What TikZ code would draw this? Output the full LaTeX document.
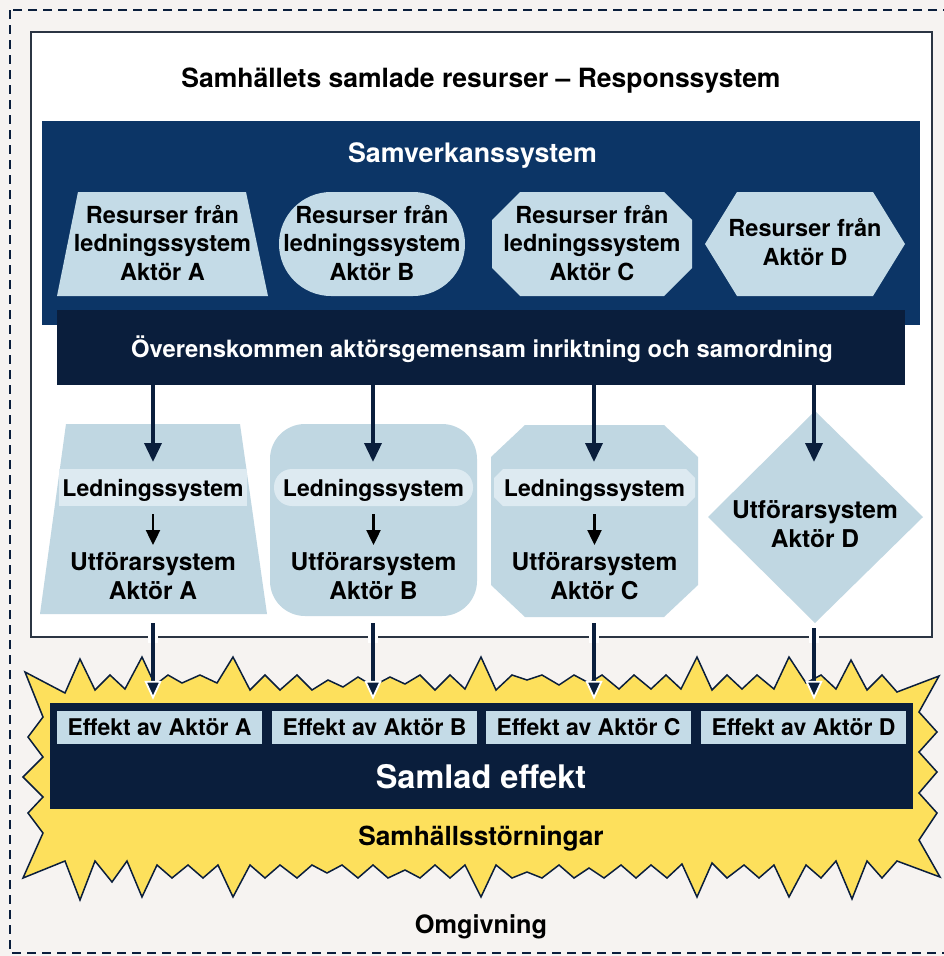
\documentclass[tikz,border=0pt]{standalone}
\usepackage{fontspec}
\setmainfont{TeX Gyre Heros}
\usetikzlibrary{arrows.meta}
\definecolor{bg}{HTML}{F6F3F1}
\definecolor{navy}{HTML}{0C3566}
\definecolor{ink}{HTML}{0A1E3C}
\definecolor{lb}{HTML}{C4DBE7}
\definecolor{lbtwo}{HTML}{C0D7E2}
\definecolor{band}{HTML}{DDEAF1}
\definecolor{yel}{HTML}{FDE05C}
\definecolor{frame}{HTML}{2B3543}
\begin{document}
\begin{tikzpicture}[x=1pt,y=-1pt,
  uptxt/.style={font=\bfseries\fontsize{23.5}{28.5}\selectfont, align=center, inner sep=0pt},
  lowtxt/.style={font=\bfseries\fontsize{24.5}{29}\selectfont, align=center, inner sep=0pt},
  ledtxt/.style={font=\bfseries\fontsize{23}{28}\selectfont, inner sep=0pt, anchor=base},
  efftxt/.style={font=\bfseries\fontsize{23}{28}\selectfont, fill=lb, inner sep=0pt, minimum width=205pt, minimum height=33pt},
  bigarrow/.style={ink, line width=3.6pt, -{Triangle[width=17pt,length=19pt]}},
  outarrow/.style={ink, line width=3.6pt, -{Triangle[width=17pt,length=19pt,color=white,fill=ink,line width=1.8pt]}},
  smallarrow/.style={black, line width=2.4pt, -{Triangle[width=14pt,length=15pt]}},
  gap/.style={white, line width=10pt}]
\fill[bg] (0,0) rectangle (944,956);
\useasboundingbox (0,0) rectangle (944,956);
\draw[ink, line width=2pt, dash pattern=on 9pt off 6pt] (10,10) rectangle (948,953);

% starburst
\draw[fill=yel, draw=ink, line width=1.5pt, line join=miter]
 (25,672) -- (65,693) -- (80,659) -- (95,690) -- (110,675) -- (125,689) -- (142,657) -- (155,685) -- (168,675) -- (182,683) -- (200,675) -- (217,683) -- (233,657) -- (250,690) -- (265,675) -- (280,690) -- (297,675) -- (312,690) -- (328,680) -- (343,687) -- (358,677) -- (373,686) -- (390,677) -- (405,684) -- (420,675) -- (435,690) -- (450,675) -- (465,689) -- (481,657) -- (496,690) -- (512,675) -- (527,680) -- (542,675) -- (559,685) -- (574,675) -- (589,683) -- (602,675) -- (619,689) -- (634,675) -- (651,689) -- (666,675) -- (681,689) -- (697,657) -- (712,690) -- (727,675) -- (742,689) -- (757,675) -- (774,689) -- (789,657) -- (806,683) -- (821,675) -- (836,689) -- (851,660) -- (867,690) -- (882,675) -- (897,692) -- (939,676)
 -- (919,712) -- (937,732) -- (919,752) -- (937,772) -- (919,793) -- (937,813) -- (919,840) -- (940,877)
 -- (897,861) -- (882,878) -- (867,861) -- (852,899) -- (836,861) -- (821,878) -- (806,865) -- (789,897) -- (774,865) -- (759,878) -- (744,865) -- (727,878) -- (712,863) -- (697,897) -- (682,864) -- (667,878) -- (651,865) -- (636,878) -- (621,865) -- (604,878) -- (589,868) -- (574,878) -- (559,865) -- (542,878) -- (527,872) -- (512,878) -- (496,865) -- (481,897) -- (465,865) -- (450,878) -- (435,865) -- (420,878) -- (405,870) -- (388,878) -- (373,865) -- (358,878) -- (342,865) -- (327,873) -- (312,865) -- (297,878) -- (280,865) -- (265,878) -- (250,865) -- (233,897) -- (218,865) -- (203,878) -- (188,865) -- (172,878) -- (157,865) -- (142,897) -- (127,861) -- (112,882) -- (95,861) -- (80,900) -- (65,861) -- (23,878)
 -- (43,833) -- (28,813) -- (43,797) -- (23,777) -- (43,757) -- (28,737) -- (43,717) -- cycle;

% response system frame
\draw[frame, fill=white, line width=1.5pt] (31,32) rectangle (932,637);
\node[font=\bfseries\fontsize{26.5}{30}\selectfont, anchor=base, inner sep=0pt] (title) at (481,87) {Samhällets samlade resurser – Responssystem};

% samverkanssystem
\fill[navy] (42,121) rectangle (920,325);
\node[font=\bfseries\fontsize{26.8}{30}\selectfont, text=white, anchor=base, inner sep=0pt] (samv) at (472.5,162.5) {Samverkanssystem};

% upper resource shapes
\fill[lb] (78,192) -- (246,192) -- (268,296) -- (57,296) -- cycle;
\fill[lb, rounded corners=52pt] (279,192) rectangle (465,296);
\fill[lb] (520,192) -- (664,192) -- (692,220) -- (692,268) -- (664,296) -- (520,296) -- (492,268) -- (492,220) -- cycle;
\fill[lb] (705,244) -- (737,192) -- (873,192) -- (905,244) -- (873,296) -- (737,296) -- cycle;
\node[uptxt] (resA) at (162.5,242.7) {Resurser från\\ledningssystem\\Aktör A};
\node[uptxt] (resB) at (372,242.7) {Resurser från\\ledningssystem\\Aktör B};
\node[uptxt] (resC) at (592,242.7) {Resurser från\\ledningssystem\\Aktör C};
\node[uptxt] (resD) at (805,241.8) {Resurser från\\Aktör D};

% coordination bar
\node[fill=ink, minimum width=848pt, minimum height=75pt, inner sep=0pt] (bar) at (481,347.5) {};
\node[font=\bfseries\fontsize{23.8}{28}\selectfont, text=white, anchor=base, inner sep=0pt] (bartxt) at (482,357) {Överenskommen aktörsgemensam inriktning och samordning};

% lower shapes
\fill[lbtwo] (66,424) -- (240,424) -- (267,614) -- (40,614) -- cycle;
\fill[lbtwo, rounded corners=35pt] (270,424) rectangle (477,616);
\fill[lbtwo] (525,425) -- (664,425) -- (698,457) -- (698,585) -- (664,617) -- (525,617) -- (491,585) -- (491,457) -- cycle;
\fill[lbtwo] (815,411) -- (923,517) -- (815,623) -- (708,517) -- cycle;
% bands
\fill[band] (59,469) rectangle (247,506);
\fill[band, rounded corners=18pt] (274,469) rectangle (473,506);
\fill[band] (503,469) -- (686,469) -- (695,478) -- (695,497) -- (686,506) -- (503,506) -- (494,497) -- (494,478) -- cycle;

\node[ledtxt] (ledA) at (153,496.5) {Ledningssystem};
\node[ledtxt] (ledB) at (373.5,496.5) {Ledningssystem};
\node[ledtxt] (ledC) at (594.5,496.5) {Ledningssystem};
\node[lowtxt] (utfA) at (153,576.5) {Utförarsystem\\Aktör A};
\node[lowtxt] (utfB) at (373.5,576.5) {Utförarsystem\\Aktör B};
\node[lowtxt] (utfC) at (594.5,576.5) {Utförarsystem\\Aktör C};
\node[lowtxt] (utfD) at (815,524.4) {Utförarsystem\\Aktör D};

\draw[smallarrow] (ledA.south |- 0,514) -- (ledA.south |- 0,545);
\draw[smallarrow] (ledB.south |- 0,514) -- (ledB.south |- 0,545);
\draw[smallarrow] (ledC.south |- 0,514) -- (ledC.south |- 0,545);

% arrows from bar
\coordinate (inA) at (153,462);
\coordinate (inB) at (373,462);
\coordinate (inC) at (594,462);
\coordinate (inD) at (814,462);
\draw[bigarrow] (bar.south -| inA) -- (inA);
\draw[bigarrow] (bar.south -| inB) -- (inB);
\draw[bigarrow] (bar.south -| inC) -- (inC);
\draw[bigarrow] (bar.south -| inD) -- (inD);

% total effect
\node[fill=ink, minimum width=863pt, minimum height=106pt, inner sep=0pt] (sum) at (481.5,756) {};
\node[efftxt] (effA) at (159.5,727.5) {Effekt av Aktör A};
\node[efftxt] (effB) at (374.5,727.5) {Effekt av Aktör B};
\node[efftxt] (effC) at (588.5,727.5) {Effekt av Aktör C};
\node[efftxt] (effD) at (803.5,727.5) {Effekt av Aktör D};
\node[font=\bfseries\fontsize{32.5}{36}\selectfont, text=white, anchor=base, inner sep=0pt] (samlad) at (481,788) {Samlad effekt};
\node[font=\bfseries\fontsize{26.3}{30}\selectfont, anchor=base, inner sep=0pt] (storn) at (481,845) {Samhällsstörningar};
\node[font=\bfseries\fontsize{25.3}{28}\selectfont, anchor=base, inner sep=0pt] (omg) at (481,933) {Omgivning};

% arrows to effects
\coordinate (outA) at (153,623);
\coordinate (outB) at (373,623);
\coordinate (outC) at (594,623);
\coordinate (outD) at (814,628);
\foreach \c in {outA,outB,outC,outD}{
  \draw[gap] (\c |- 0,631) -- (\c |- 0,643);
}
\draw[outarrow, shorten >=3pt] (outA) -- (sum.north -| outA);
\draw[outarrow, shorten >=3pt] (outB) -- (sum.north -| outB);
\draw[outarrow, shorten >=3pt] (outC) -- (sum.north -| outC);
\draw[outarrow, shorten >=3pt] (outD) -- (sum.north -| outD);
\end{tikzpicture}
\end{document}
